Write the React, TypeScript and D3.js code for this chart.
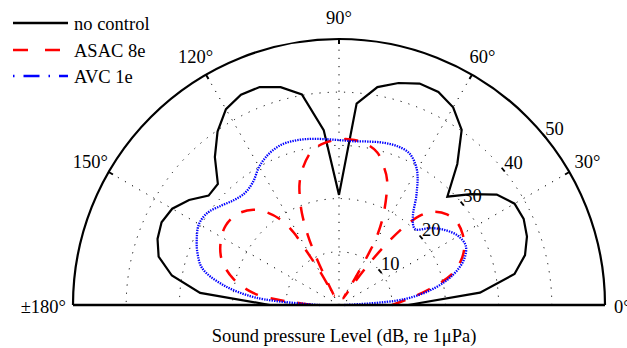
import React from 'react';
import * as d3 from 'd3';

// ---- data (dB, re 1µPa) ----
const noControlAngles = [0,5,10,15,20,25,30,35,40,45,50,55,60,65,70,75,80,85,90,95,100,105,110,115,120,125,130,135,140,145,150,155,160,165,170,175,180];
const noControlDb = [13,26.6,33.5,36.2,37.6,38.3,38.1,36.2,32.4,28.8,34.6,40.2,42.9,44.2,44.3,43.2,41.6,38,20.7,33,40.2,42.4,43.6,43.6,42.5,39.8,36.3,32.2,32,34.4,36.2,36.8,36.3,35.1,31.9,26.2,13];

const asacAngles = [0,5,10,15,20,25,30,35,40,45,48,50,52,54,56,57.5,59,60,61,64,69,72,76,81,86,90,95,100,105,108,110,112,114,115.5,117,118,119.5,121,122,124,128,132,138,145,152,159,166,172,175,177,180];
const asacDb = [10,13,17.3,21.8,24.4,26,26.8,27.1,26.5,24.8,22.5,19.5,15,9.5,4,1.5,6,11,14.5,19.2,25.2,27.3,29.6,30.8,31.2,31.1,30.6,29.4,26.5,24,21.5,18.6,14.5,10,4,2,7,11.5,16,19.1,22.1,24.1,25.6,26,25.2,23.6,20.5,16.3,11.7,7.9,5];

const avcAngles = [0,5,10,15,20,25,30,35,40,45,50,55,60,65,70,75,80,85,90,95,100,105,110,115,120,125,130,135,140,145,150,155,160,165,170,175,180];
const avcDb = [1,12.2,18.2,22.3,25,26.3,25.9,24.5,22.5,20.2,21.6,25.4,29.3,31.4,31.8,31.6,31.2,30.9,31,31.3,31.7,32,32,31.3,30,28.2,27.5,27.9,29,30.2,30.4,29.5,28.3,26.6,22.3,15.6,3.6];

const angleTicks = [30, 60, 90, 120, 150];
const radialTicks = [10, 20, 30, 40, 50];
const gridRings = [10, 20, 30, 40];
const legendLabels = ['no control', 'ASAC 8e', 'AVC 1e'];
const xLabel = 'Sound pressure Level (dB, re 1\u03bcPa)';

const W = 627, H = 348;
const CX = 339, CY = 305, R = 266;
const FONT = '"Liberation Serif", "Times New Roman", serif';
const FS = 18.5;

export default function App() {
  const r = d3.scaleLinear().domain([0, 50]).range([0, R]);
  const rad = (deg: number) => (deg * Math.PI) / 180;
  const px = (deg: number, v: number) => CX + r(v) * Math.cos(rad(deg));
  const py = (deg: number, v: number) => CY - r(v) * Math.sin(rad(deg));

  const mkLine = (curve: any) =>
    d3
      .lineRadial<[number, number]>()
      .angle((d) => Math.PI / 2 - rad(d[0]))
      .radius((d) => r(d[1]))
      .curve(curve);

  const zip = (a: number[], b: number[]) => a.map((v, i) => [v, b[i]] as [number, number]);

  const blackPath = mkLine(d3.curveLinear)(zip(noControlAngles, noControlDb)) || '';
  const redPath = mkLine(d3.curveCatmullRom.alpha(0.5))(zip(asacAngles, asacDb)) || '';
  const bluePath = mkLine(d3.curveCatmullRom.alpha(0.5))(zip(avcAngles, avcDb)) || '';

  const arcPath = (rv: number) => {
    const p = d3.path();
    p.arc(0, 0, r(rv), 0, -Math.PI, true);
    return p.toString();
  };

  const labelAngle = 39.5;
  const labelRadius = 287;

  return (
    <svg width={W} height={H} style={{ position: 'absolute', left: 0, top: 0, background: '#fff' }} fontFamily={FONT}>
      <rect width={W} height={H} fill="#fff" />
      <g transform={`translate(${CX},${CY})`}>
        {gridRings.map((v) => (
          <path key={'ring' + v} d={arcPath(v)} fill="none" stroke="#000" strokeWidth={1} strokeDasharray="1.2,7" />
        ))}
        {angleTicks.map((a) => (
          <line key={'sp' + a} x1={0} y1={0} x2={r(50) * Math.cos(rad(a))} y2={-r(50) * Math.sin(rad(a))}
            stroke="#000" strokeWidth={1} strokeDasharray="1.2,7" />
        ))}
      </g>

      <g transform={`translate(${CX},${CY})`} fill="none">
        <path d={blackPath} stroke="#000" strokeWidth={2.2} strokeLinejoin="miter" />
        <path d={redPath} stroke="#ff0000" strokeWidth={2.5} strokeDasharray="14,13" />
        <path d={bluePath} stroke="#0000ff" strokeWidth={2.3} strokeDasharray="1.4,1.1" />
      </g>

      <g transform={`translate(${CX},${CY})`}>
        <path d={arcPath(50)} fill="none" stroke="#000" strokeWidth={2.2} />
        <line x1={-r(50)} y1={0} x2={r(50)} y2={0} stroke="#000" strokeWidth={2.6} />
        {angleTicks.map((a) => (
          <line key={'tk' + a}
            x1={r(50) * Math.cos(rad(a))} y1={-r(50) * Math.sin(rad(a))}
            x2={(r(50) - 5) * Math.cos(rad(a))} y2={-(r(50) - 5) * Math.sin(rad(a))}
            stroke="#000" strokeWidth={2} />
        ))}
      </g>

      {radialTicks.map((v) => {
        const tx = px(labelAngle, v);
        const ty = py(labelAngle, v);
        const tdx = Math.sin(rad(labelAngle)) * 2.4;
        const tdy = Math.cos(rad(labelAngle)) * 2.4;
        return (
          <g key={'rl' + v}>
            <line x1={tx - tdx} y1={ty - tdy} x2={tx + tdx} y2={ty + tdy} stroke="#000" strokeWidth={1.8} />
            <text x={tx + 1} y={ty - 1} fontSize={FS} fill="#000">{v}</text>
          </g>
        );
      })}

      {angleTicks.map((a) => (
        <text key={'al' + a} x={CX + labelRadius * Math.cos(rad(a))} y={CY - labelRadius * Math.sin(rad(a))}
          dy="0.35em" textAnchor="middle" fontSize={FS} fill="#000">{a}°</text>
      ))}
      <text x={66} y={313} textAnchor="end" fontSize={FS} fill="#000">±180°</text>
      <text x={614} y={313} textAnchor="start" fontSize={FS} fill="#000">0°</text>

      <text x={344} y={342} textAnchor="middle" fontSize={FS} fill="#000">{xLabel}</text>

      <g>
        <line x1={13} y1={23} x2={68} y2={23} stroke="#000" strokeWidth={2.3} />
        <line x1={13} y1={50} x2={68} y2={50} stroke="#ff0000" strokeWidth={2.5} strokeDasharray="15,17" />
        <line x1={13} y1={76} x2={68} y2={76} stroke="#0000ff" strokeWidth={2.3} strokeDasharray="1.5,9,16,9" />
        {legendLabels.map((l, i) => (
          <text key={l} x={74} y={[23, 50, 76][i] + 6.5} fontSize={FS} fill="#000">{l}</text>
        ))}
      </g>
    </svg>
  );
}
